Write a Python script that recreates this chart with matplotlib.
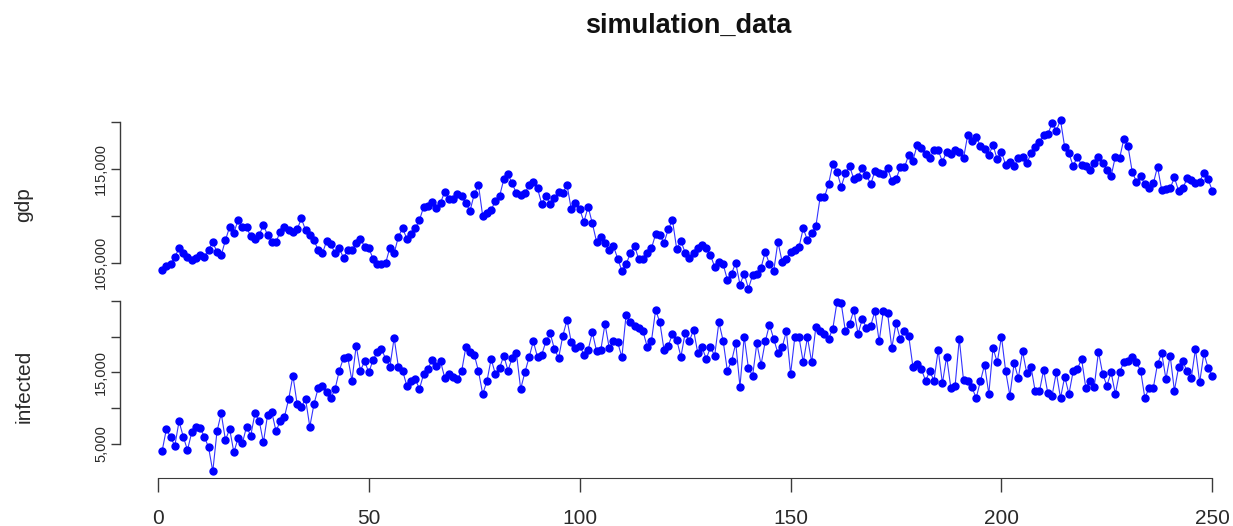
"""
plot.py
───────
Two stacked time-series panels (gdp, infected) of the simulation run,
drawn in the classic base-R plot.ts look: points joined by thin lines,
open left/bottom axes only.
"""

import matplotlib
matplotlib.use("Agg")
import matplotlib.pyplot as plt
import numpy as np

# step index 1..250
steps = np.arange(1, 251)

gdp = [
    104290, 104650, 104860, 105640, 106530, 106070, 105640, 105290, 105530, 105820,
    105640, 106420, 107170, 106170, 105820, 107410, 108830, 108190, 109540, 108830,
    108760, 107840, 107590, 107950, 109010, 107950, 107240, 107240, 108300, 108760,
    108480, 108300, 108550, 109720, 108480, 107950, 107410, 106350, 106000, 107340,
    106990, 106000, 106530, 105530, 106350, 106350, 107060, 107590, 106700, 106530,
    105460, 104930, 104860, 105000, 106630, 106000, 107770, 108660, 107590, 108050,
    108660, 109540, 110960, 111030, 111490, 110780, 111390, 112560, 111780, 111810,
    112310, 112100, 111320, 110540, 112310, 113270, 109970, 110250, 110610, 111600,
    112100, 113870, 114400, 113440, 112380, 112200, 112380, 113270, 113620, 112910,
    111240, 112100, 111240, 111850, 112560, 112450, 113270, 110680, 111390, 110710,
    109370, 110960, 109190, 107240, 107700, 107060, 106350, 106780, 105460, 104150,
    104860, 106000, 106810, 105390, 105390, 106070, 106530, 108050, 107950, 107130,
    108580, 109540, 106460, 107340, 106070, 105570, 106000, 106530, 106880, 106530,
    105820, 104580, 105110, 104860, 103230, 103870, 105000, 102700, 103870, 102270,
    103690, 103870, 104500, 106170, 104860, 104150, 107240, 105110, 105390, 106170,
    106350, 106700, 108660, 107410, 108190, 108900, 111950, 111950, 113370, 115500,
    114690, 113090, 114510, 115290, 113870, 114150, 115040, 114330, 113370, 114760,
    114510, 114440, 115040, 113730, 113870, 115150, 115150, 116460, 115860, 117520,
    117170, 116570, 116100, 116990, 116990, 115750, 116810, 116570, 116990, 116780,
    116100, 118590, 117980, 118410, 117420, 117060, 116460, 117520, 116000, 116810,
    115390, 115750, 115290, 116100, 116280, 115570, 116640, 117350, 117880, 118590,
    118690, 119830, 119050, 120180, 117270, 116640, 115290, 116280, 115390, 115290,
    114860, 115640, 116210, 115640, 114860, 114220, 116280, 116100, 118130, 117420,
    114690, 113620, 114220, 113370, 112910, 113440, 115220, 112730, 112800, 112910,
    114080, 112660, 112910, 113980, 113800, 113510, 113620, 114580, 113870, 112660,
]

infected = [
    4060, 7090, 5920, 4760, 8160, 6020, 4150, 6620, 7410, 7230,
    6020, 4530, 1170, 6760, 9280, 5550, 7090, 3830, 5830, 5080,
    7410, 6160, 9280, 8250, 5220, 9090, 9420, 6760, 8250, 8810,
    11280, 14540, 10580, 10210, 11280, 7410, 10580, 12820, 13140, 12210,
    11420, 12680, 15240, 17010, 17100, 13840, 18730, 15240, 16540, 15000,
    16730, 17800, 18260, 16870, 15800, 19800, 15800, 15240, 13140, 13840,
    14070, 12680, 14770, 15470, 16730, 15940, 16540, 14210, 14770, 14400,
    14070, 15140, 18500, 17800, 17470, 15140, 11980, 13750, 16870, 14770,
    15610, 17330, 15240, 17010, 17660, 12680, 15000, 17100, 19330, 17100,
    17470, 19330, 20450, 18260, 17010, 20130, 22320, 19200, 18400, 18730,
    17470, 18120, 20590, 17940, 18120, 21760, 18400, 19330, 19200, 17100,
    23060, 21990, 21520, 21200, 20730, 18590, 19330, 23710, 21990, 18120,
    18730, 20360, 19520, 17190, 20500, 19380, 20920, 17660, 18500, 16870,
    18500, 17330, 21990, 19430, 15240, 16540, 19060, 13000, 19990, 15610,
    14540, 19060, 16070, 19330, 21660, 19660, 17660, 18500, 20730, 14770,
    19890, 19890, 16400, 19890, 16400, 21380, 20730, 20360, 19660, 21060,
    24780, 24640, 20730, 21760, 23710, 20360, 22450, 21200, 21520, 23530,
    19330, 23620, 23250, 18400, 21850, 19660, 20820, 20130, 15800, 16170,
    15470, 13840, 15140, 13840, 18120, 13470, 17190, 12820, 13050, 19660,
    13930, 13840, 12910, 11420, 13750, 16070, 11980, 18400, 16400, 19990,
    15140, 11740, 16260, 14210, 17940, 14860, 15800, 12350, 12350, 15330,
    12070, 11740, 15000, 11420, 14400, 11980, 15140, 15470, 16870, 12820,
    13840, 13000, 17890, 14770, 13140, 15000, 11980, 15000, 16400, 16540,
    17100, 16400, 15240, 11420, 12820, 12820, 16170, 17660, 14070, 17330,
    12440, 15700, 16540, 15140, 14210, 18260, 13610, 17660, 15610, 14540,
]

gdp_ticks = [105000, 110000, 115000, 120000]
gdp_tick_labels = ["105,000", "", "115,000", ""]
infected_ticks = [5000, 10000, 15000, 20000, 25000]
infected_tick_labels = ["5,000", "", "15,000", "", ""]
x_ticks = [0, 50, 100, 150, 200, 250]

W, H = 1233, 526
AXIS_COLOR = "#3a3a3a"
TEXT_COLOR = "#2a2a2a"
FONT = ["Liberation Sans", "DejaVu Sans"]


def padded(values, frac=0.04):
    # R-style 4% axis padding around the data range
    lo, hi = min(values), max(values)
    pad = (hi - lo) * frac
    return lo - pad, hi + pad


def style_panel(ax, ticks, labels, name):
    for side in ("top", "right", "bottom"):
        ax.spines[side].set_visible(False)
    ax.spines["left"].set_bounds(ticks[0], ticks[-1])
    ax.spines["left"].set_color(AXIS_COLOR)
    ax.spines["left"].set_linewidth(1.0)
    ax.set_yticks(ticks)
    ax.set_yticklabels(labels, rotation=90, va="center", family=FONT,
                       fontsize=10.5, color=TEXT_COLOR)
    ax.tick_params(axis="y", length=6.5, width=1.0, color=AXIS_COLOR, pad=2)
    ax.set_ylabel(name, family=FONT, fontsize=15, color=TEXT_COLOR)
    ax.yaxis.set_label_coords(-0.078, 0.5)


def main():
    plt.rcParams["font.family"] = FONT
    fig = plt.figure(figsize=(W / 100, H / 100), dpi=100)

    left = 120 / W
    width = 1 - left
    top_ax = fig.add_axes([left, 1 - 295.3 / H, width, (295.3 - 113.3) / H])
    bot_ax = fig.add_axes([left, 1 - 478.2 / H, width, (478.2 - 295.5) / H])

    xlim = (-9.0, 254.9)
    for ax, series in ((top_ax, gdp), (bot_ax, infected)):
        ax.plot(steps, series, "-", color="#0000ff", lw=0.8, alpha=0.8)
        ax.plot(steps, series, "o", color="#0000ff", ms=5.0, mec="#0000ff")
        ax.set_xlim(*xlim)
        ax.set_ylim(*padded(series))

    style_panel(top_ax, gdp_ticks, gdp_tick_labels, "gdp")
    style_panel(bot_ax, infected_ticks, infected_tick_labels, "infected")

    top_ax.set_xticks([])
    bot_ax.spines["bottom"].set_visible(True)
    bot_ax.spines["bottom"].set_bounds(x_ticks[0], x_ticks[-1])
    bot_ax.spines["bottom"].set_color(AXIS_COLOR)
    bot_ax.set_xticks(x_ticks)
    bot_ax.set_xticklabels([str(t) for t in x_ticks], family=FONT,
                           fontsize=15, color=TEXT_COLOR)
    bot_ax.tick_params(axis="x", length=10, width=1.0, color=AXIS_COLOR, pad=12)

    fig.text(688 / W, 1 - 26 / H, "simulation_data", ha="center", va="center",
             fontsize=19.5, fontweight="bold", family=FONT, color="#111111")

    fig.savefig("out.png", dpi=100)
    plt.close(fig)


if __name__ == "__main__":
    main()
